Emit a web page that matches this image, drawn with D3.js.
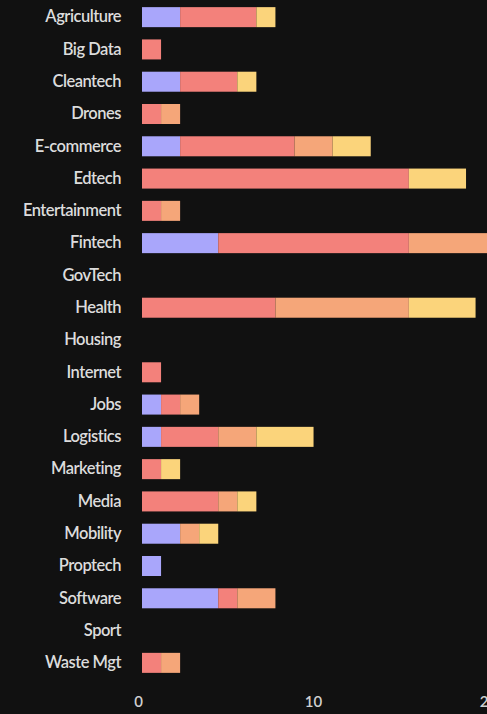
<!DOCTYPE html>
<html>
<head>
<meta charset="utf-8">
<script src="https://cdn.jsdelivr.net/npm/d3@7"></script>
<style>
  html, body { margin: 0; padding: 0; background: #111111; }
  svg { display: block; }
  text { font-family: Lato, "Open Sans", sans-serif; }
</style>
</head>
<body>
<svg id="chart" width="487" height="714"></svg>
<script>
// Sectors, top to bottom
const categories = [
  "Agriculture", "Big Data", "Cleantech", "Drones", "E-commerce", "Edtech",
  "Entertainment", "Fintech", "GovTech", "Health", "Housing", "Internet",
  "Jobs", "Logistics", "Marketing", "Media", "Mobility", "Proptech",
  "Software", "Sport", "Waste Mgt"
];

// Stacked segments per sector, in stacking order
const series1 = [2, 0, 2, 0, 2, 0, 0, 4, 0, 0, 0, 0, 1, 1, 0, 0, 2, 1, 4, 0, 0];
const series2 = [4, 1, 3, 1, 6, 14, 1, 10, 0, 7, 0, 1, 1, 3, 1, 4, 0, 0, 1, 0, 1];
const series3 = [0, 0, 0, 1, 2, 0, 1, 5, 0, 7, 0, 0, 1, 2, 0, 1, 1, 0, 2, 0, 1];
const series4 = [1, 0, 1, 0, 2, 3, 0, 0, 0, 3.5, 0, 0, 0, 3, 1, 1, 1, 0, 0, 0, 0];

const axisTicks = [0, 10, 20];

const seriesKeys = ["series1", "series2", "series3", "series4"];
const seriesColors = ["#a9a6fb", "#f3817b", "#f5a679", "#fbd47b"];

const rows = categories.map((c, i) => ({
  category: c,
  series1: series1[i],
  series2: series2[i],
  series3: series3[i],
  series4: series4[i]
}));

const W = 487, H = 714;
const svg = d3.select("#chart");

const x = d3.scaleLinear().domain([0, 18.1]).range([142, 487]);
const axisX = d3.scaleLinear().domain([0, 20]).range([138, 488]);
const y = d3.scaleBand().domain(categories).range([1, 679]).paddingInner(0.38).paddingOuter(0.19);
const color = d3.scaleOrdinal().domain(seriesKeys).range(seriesColors);

const stacked = d3.stack().keys(seriesKeys)(rows);

svg.append("defs").append("clipPath").attr("id", "plot-clip")
  .append("rect").attr("x", 0).attr("y", 0).attr("width", W).attr("height", H);

svg.append("g").attr("clip-path", "url(#plot-clip)")
  .selectAll("g.layer")
  .data(stacked)
  .join("g")
  .attr("class", "layer")
  .attr("fill", d => color(d.key))
  .selectAll("rect")
  .data(d => d.filter(s => s[1] > s[0]))
  .join("rect")
  .attr("x", d => x(d[0]))
  .attr("y", d => y(d.data.category))
  .attr("width", d => x(d[1]) - x(d[0]))
  .attr("height", y.bandwidth());

// Category labels
const yAxis = svg.append("g")
  .attr("transform", "translate(121,0)")
  .call(d3.axisLeft(y).tickSize(0).tickPadding(0));
yAxis.select(".domain").remove();
yAxis.selectAll("text")
  .attr("fill", "#dcdcdc")
  .attr("font-size", 16.5)
  .attr("font-weight", 600)
  .attr("letter-spacing", "-0.5px");

// Value axis
const xAxis = svg.append("g")
  .attr("transform", "translate(0,692)")
  .call(d3.axisBottom(axisX).tickValues(axisTicks).tickFormat(d3.format("d")).tickSize(0).tickPadding(4));
xAxis.select(".domain").remove();
xAxis.selectAll("text")
  .attr("fill", "#d0d0d0")
  .attr("font-size", 15)
  .attr("font-weight", 600);
</script>
</body>
</html>
